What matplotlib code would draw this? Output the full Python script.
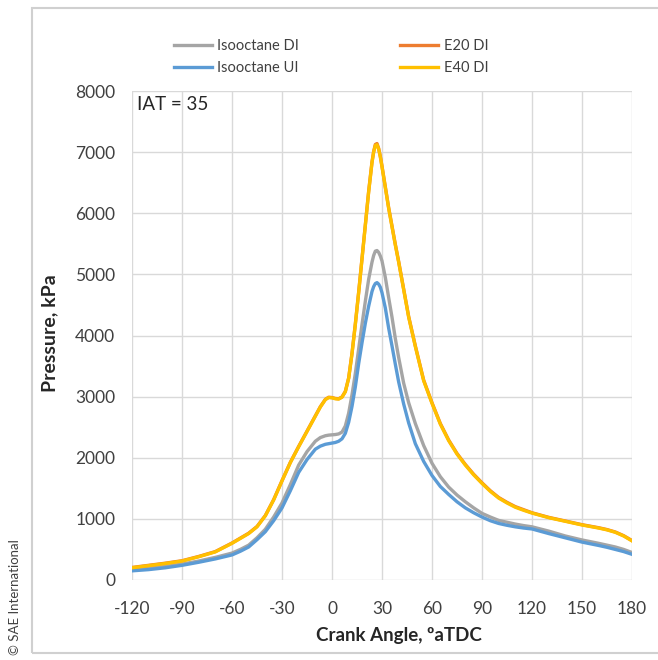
import matplotlib.pyplot as plt
from matplotlib.patches import Rectangle

plt.rcParams['font.family'] = ['Lato', 'DejaVu Sans']
plt.rcParams['axes.unicode_minus'] = False

# crank angle (deg aTDC) and cylinder pressure (kPa)
angle = [-120, -110, -100, -90, -80, -70, -60, -55, -50, -45, -40, -35, -30, -25, -20, -15, -10, -7, -4, -2,
         0, 2, 4, 6, 8, 10, 12, 14, 16, 18, 20, 22, 24, 25, 26, 27, 28, 29, 30, 32,
         34, 36, 38, 40, 43, 46, 50, 55, 60, 65, 70, 75, 80, 85, 90, 95, 100, 105, 110, 115,
         120, 130, 140, 150, 160, 165, 170, 175, 180]

iso_di = [170, 190, 220, 260, 310, 370, 440, 500, 570, 690, 830, 1030, 1260, 1560, 1880, 2100, 2270, 2330, 2360, 2370,
          2375, 2380, 2390, 2420, 2520, 2730, 3030, 3380, 3780, 4180, 4560, 4920, 5200, 5310, 5380, 5390, 5360, 5300, 5220, 4950,
          4620, 4300, 3950, 3640, 3220, 2900, 2560, 2200, 1910, 1690, 1520, 1390, 1280, 1180, 1090, 1030, 975, 945, 915, 890,
          870, 800, 720, 655, 600, 570, 540, 500, 450]

iso_ui = [150, 170, 200, 240, 290, 345, 410, 470, 540, 660, 790, 970, 1180, 1460, 1760, 1970, 2140, 2190, 2220, 2230,
          2240, 2250, 2270, 2310, 2400, 2580, 2840, 3160, 3540, 3880, 4200, 4480, 4720, 4800, 4850, 4865, 4840, 4790, 4700, 4450,
          4120, 3830, 3530, 3240, 2880, 2570, 2230, 1940, 1710, 1530, 1400, 1280, 1180, 1100, 1030, 970, 925, 895, 870, 850,
          835, 760, 690, 620, 565, 535, 500, 465, 420]

e20_di = [205, 240, 275, 315, 385, 465, 605, 685, 765, 875, 1055, 1315, 1625, 1925, 2185, 2435, 2685, 2835, 2955, 2990,
          2985, 2970, 2965, 2995, 3085, 3305, 3710, 4190, 4710, 5260, 5810, 6360, 6840, 7010, 7125, 7140, 7060, 6930, 6770, 6430,
          6090, 5790, 5490, 5210, 4760, 4310, 3830, 3270, 2900, 2560, 2290, 2070, 1890, 1730, 1590, 1460, 1350, 1270, 1200, 1150,
          1100, 1025, 965, 905, 855, 825, 785, 725, 645]

e40_di = [200, 235, 270, 310, 380, 460, 600, 680, 760, 870, 1050, 1310, 1620, 1920, 2180, 2430, 2680, 2830, 2950, 2985,
          2980, 2965, 2960, 2990, 3080, 3300, 3700, 4180, 4700, 5250, 5800, 6350, 6830, 7000, 7110, 7120, 7050, 6920, 6760, 6420,
          6080, 5780, 5480, 5200, 4750, 4300, 3820, 3260, 2890, 2550, 2280, 2060, 1880, 1720, 1580, 1450, 1340, 1260, 1190, 1140,
          1095, 1020, 960, 900, 850, 820, 780, 720, 640]

x_ticks = list(range(-120, 181, 30))
y_ticks = list(range(0, 8001, 1000))

fig = plt.figure(figsize=(6.58, 6.60), dpi=100)
fig.patches.append(Rectangle((32 / 658, 1 - 653 / 660), 0.99, 645 / 660, transform=fig.transFigure,
                             fill=False, edgecolor='#d0d0d0', lw=1.5))

ax = fig.add_axes([132 / 658, 1 - 580 / 660, 500 / 658, 489 / 660])

ax.plot(angle, iso_di, color='#a5a5a5', lw=2.4, label='Isooctane DI')
ax.plot(angle, iso_ui, color='#5b9bd5', lw=2.4, label='Isooctane UI')
ax.plot(angle, e20_di, color='#ed7d31', lw=2.4, label='E20 DI')
ax.plot(angle, e40_di, color='#ffc000', lw=2.4, label='E40 DI')

ax.set_xlim(-120, 180)
ax.set_ylim(0, 8000)
ax.set_xticks(x_ticks)
ax.set_yticks(y_ticks)
ax.grid(True, color='#d9d9d9', lw=1)
ax.set_axisbelow(True)
for s in ax.spines.values():
    s.set_visible(False)
ax.tick_params(length=0, labelsize=12.5, labelcolor='#404040')
ax.tick_params(axis='x', pad=15)
ax.tick_params(axis='y', pad=12)

ax.text(0.01, 0.99, 'IAT = 35', transform=ax.transAxes, ha='left', va='top',
        fontsize=13.5, color='#262626')

fig.text(50 / 658, 1 - 333 / 660, 'Pressure, kPa', rotation=90, ha='center', va='center',
         fontsize=14, fontweight='bold', color='#262626')
fig.text(399 / 658, 1 - 636 / 660, 'Crank Angle, ºaTDC', ha='center', va='center',
         fontsize=13.5, fontweight='bold', color='#262626')
fig.text(15 / 658, 1 - 655 / 660, '© SAE International', rotation=90, ha='center', va='bottom',
         fontsize=9.5, color='#404040')

fig.legend(loc='center', bbox_to_anchor=(331 / 658, 1 - 57 / 660), ncol=2, frameon=False,
           fontsize=10.5, handlelength=2.6, handletextpad=0.4, columnspacing=6.9,
           labelspacing=0.6, labelcolor='#404040')

fig.savefig('out.png', dpi=100)
